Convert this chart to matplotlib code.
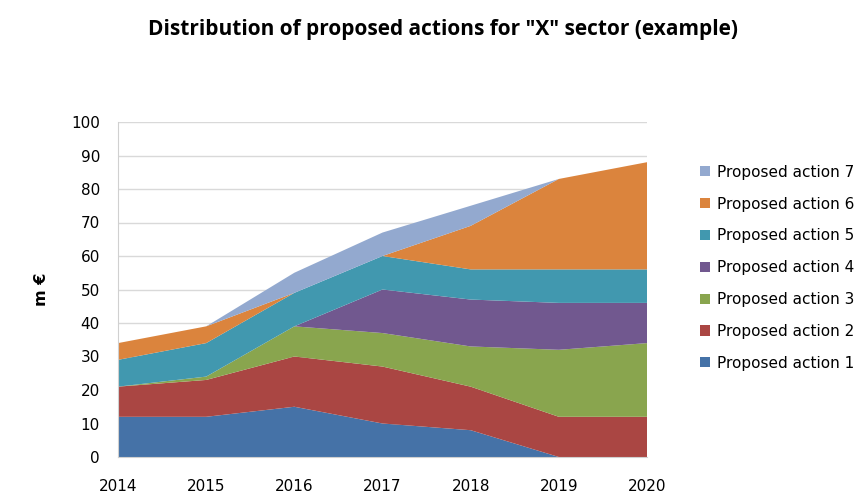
import numpy as np
import matplotlib
matplotlib.use('Agg')
import matplotlib.pyplot as plt
from matplotlib.patches import Patch

years = [2014, 2015, 2016, 2017, 2018, 2019, 2020]
labels = ['Proposed action 1', 'Proposed action 2', 'Proposed action 3', 'Proposed action 4',
          'Proposed action 5', 'Proposed action 6', 'Proposed action 7']
action1 = [12, 12, 15, 10, 8, 0, 0]
action2 = [9, 11, 15, 17, 13, 12, 12]
action3 = [0, 1, 9, 10, 12, 20, 22]
action4 = [0, 0, 0, 13, 14, 14, 12]
action5 = [8, 10, 10, 10, 9, 10, 10]
action6 = [5, 5, 0, 0, 13, 27, 32]
action7 = [0, 0, 6, 7, 6, 0, 0]
colors = ['#4572A7', '#AA4643', '#89A54E', '#71588F', '#4198AF', '#DB843D', '#93A9CF']

W, H = 865, 493
fig = plt.figure(figsize=(W / 100, H / 100), dpi=100)
ax = fig.add_axes([118 / W, (H - 457) / H, (647 - 118) / W, (457 - 122) / H])

ax.stackplot(years, action1, action2, action3, action4, action5, action6, action7,
             colors=colors, linewidth=0, zorder=2)

ax.set_xlim(2014, 2020)
ax.set_ylim(0, 100)
ax.set_yticks(range(0, 101, 10))
ax.set_xticks(years)
ax.grid(axis='y', color='#d9d9d9', linewidth=1, zorder=0)
ax.set_axisbelow(True)
for s in ['top', 'right']:
    ax.spines[s].set_visible(False)
for s in ['left', 'bottom']:
    ax.spines[s].set_color('#d0d0d0')
ax.tick_params(axis='both', length=0, labelsize=11)
ax.tick_params(axis='x', pad=16)
ax.tick_params(axis='y', pad=13)

ax.set_ylabel('m €', fontsize=11.5, fontweight='bold', labelpad=16)

fig.text(443 / W, 1 - 29 / H, 'Distribution of proposed actions for "X" sector (example)',
         ha='center', va='center', fontsize=15, fontweight='bold', family='Open Sans')

handles = [Patch(facecolor=c, edgecolor='none') for c in colors]
fig.legend(handles[::-1], labels[::-1], loc='upper left',
           bbox_to_anchor=(686 / W, 1 - 151 / H), frameon=False, fontsize=11,
           handlelength=0.65, handleheight=0.65, handletextpad=0.5, labelspacing=1.1)

fig.savefig('out.png', dpi=100)
